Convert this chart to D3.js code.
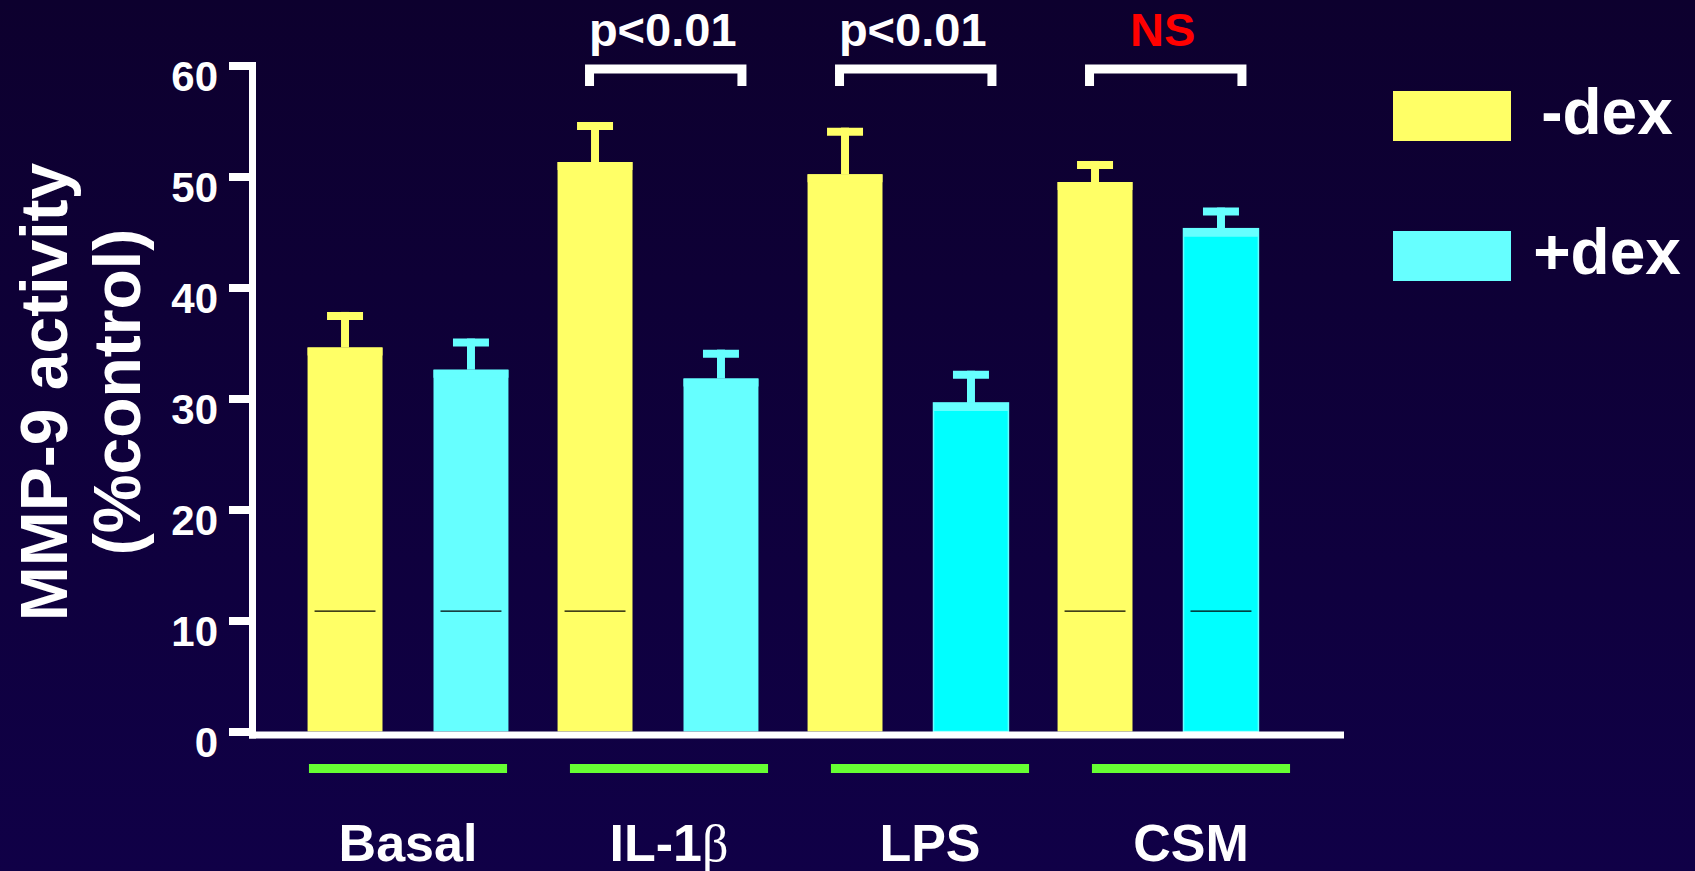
<!DOCTYPE html>
<html>
<head>
<meta charset="utf-8">
<script src="https://cdn.jsdelivr.net/npm/d3@7"></script>
<style>
  html, body { margin: 0; padding: 0; background: #0e0034; }
  svg { display: block; }
  text { font-family: "Liberation Sans", Arial, sans-serif; font-weight: bold; fill: #ffffff; }
</style>
</head>
<body>
<svg id="chart" width="1695" height="871"></svg>
<script>
// MMP-9 activity by stimulus, without (-dex) and with (+dex) dexamethasone
const categories = ["Basal", "IL-1β", "LPS", "CSM"];
const series = ["-dex", "+dex"];
const minusDex = [34.6, 51.3, 50.2, 49.5];
const minusDexSE = [3.2, 3.6, 4.2, 1.9];
const plusDex = [32.6, 31.8, 29.6, 45.3];
const plusDexSE = [2.8, 2.6, 2.9, 1.9];
const yTicks = [0, 10, 20, 30, 40, 50, 60];

// significance brackets above three stimuli
const compared = ["IL-1β", "LPS", "CSM"];
const compareLabels = ["p<0.01", "p<0.01", "NS"];

// thin reference rule that shows inside some bars
const ruleValue = 10.85;
const ruleBars = [["Basal", "-dex"], ["Basal", "+dex"], ["IL-1β", "-dex"], ["CSM", "-dex"], ["CSM", "+dex"]];

// colours
const seriesColor = { "-dex": "#ffff66", "+dex": "#66ffff" };
const plusDexFill = ["#66ffff", "#66ffff", "#00ffff", "#00ffff"];
const labelColor = { "p<0.01": "#ffffff", "NS": "#ff0000" };

const rows = categories.map((c, i) => ({
  cat: c,
  bars: [
    { s: "-dex", v: minusDex[i], se: minusDexSE[i], fill: seriesColor["-dex"] },
    { s: "+dex", v: plusDex[i], se: plusDexSE[i], fill: plusDexFill[i] }
  ]
}));

const svg = d3.select("#chart");

// background
const defs = svg.append("defs");
const grad = defs.append("linearGradient").attr("id", "bg").attr("x1", 0).attr("y1", 0).attr("x2", 0).attr("y2", 1);
grad.append("stop").attr("offset", "0%").attr("stop-color", "#0d002e");
grad.append("stop").attr("offset", "100%").attr("stop-color", "#100047");
svg.append("rect").attr("width", 1695).attr("height", 871).attr("fill", "url(#bg)");

// scales
const y = d3.scaleLinear().domain([0, 60]).range([731.5, 65.5]);
const x0 = d3.scaleBand().domain(categories).range([283, 1283]);
const x1 = d3.scaleBand().domain(series).range([0, x0.bandwidth()]).paddingInner(0.405).paddingOuter(0.195);
const xg = d3.scaleBand().domain(categories).range([277.5, 1321.5]).paddingInner(0.241).paddingOuter(0.1205);

// bars
const groups = svg.append("g").selectAll("g").data(rows).join("g")
  .attr("transform", d => `translate(${x0(d.cat)},0)`);

groups.selectAll("rect.bar").data(d => d.bars).join("rect")
  .attr("class", "bar")
  .attr("x", d => x1(d.s))
  .attr("y", d => y(d.v))
  .attr("width", x1.bandwidth())
  .attr("height", d => y(0) - y(d.v))
  .attr("fill", d => d.fill)
  .attr("stroke", d => d.fill === seriesColor[d.s] ? "none" : seriesColor[d.s])
  .attr("stroke-width", 1.5);

// mean line on top of each bar
groups.selectAll("line.mean").data(d => d.bars).join("line")
  .attr("class", "mean")
  .attr("x1", d => x1(d.s)).attr("x2", d => x1(d.s) + x1.bandwidth())
  .attr("y1", d => y(d.v) + 4).attr("y2", d => y(d.v) + 4)
  .attr("stroke", d => seriesColor[d.s]).attr("stroke-width", 8);

// error bars: stem + cap
groups.selectAll("line.stem").data(d => d.bars).join("line")
  .attr("class", "stem")
  .attr("x1", d => x1(d.s) + x1.bandwidth() / 2).attr("x2", d => x1(d.s) + x1.bandwidth() / 2)
  .attr("y1", d => y(d.v)).attr("y2", d => y(d.v + d.se))
  .attr("stroke", d => seriesColor[d.s]).attr("stroke-width", 8);

groups.selectAll("line.cap").data(d => d.bars).join("line")
  .attr("class", "cap")
  .attr("x1", d => x1(d.s) + x1.bandwidth() / 2 - 18).attr("x2", d => x1(d.s) + x1.bandwidth() / 2 + 18)
  .attr("y1", d => y(d.v + d.se) + 4).attr("y2", d => y(d.v + d.se) + 4)
  .attr("stroke", d => seriesColor[d.s]).attr("stroke-width", 8);

// thin rules inside bars
svg.append("g").selectAll("line").data(ruleBars).join("line")
  .attr("x1", d => x0(d[0]) + x1(d[1]) + 7)
  .attr("x2", d => x0(d[0]) + x1(d[1]) + x1.bandwidth() - 7)
  .attr("y1", y(ruleValue)).attr("y2", y(ruleValue))
  .attr("stroke", "#000000").attr("stroke-width", 1.2);

// y axis
const yAxis = svg.append("g").attr("transform", "translate(253,0)")
  .call(d3.axisLeft(y).tickValues(yTicks).tickSize(24).tickPadding(11).tickSizeOuter(0));
yAxis.select(".domain").remove();
yAxis.selectAll(".tick line").attr("stroke", "#ffffff").attr("stroke-width", 8);
yAxis.selectAll(".tick text")
  .attr("fill", "#ffffff")
  .attr("font-size", 42)
  .attr("font-family", "Liberation Sans, Arial, sans-serif")
  .attr("font-weight", "bold")
  .attr("dy", null)
  .attr("y", 10)
  .attr("dominant-baseline", "central");
svg.append("line")
  .attr("x1", 252.5).attr("x2", 252.5)
  .attr("y1", y(60) - 3.5).attr("y2", y(0) + 7)
  .attr("stroke", "#ffffff").attr("stroke-width", 7);

// x axis baseline
svg.append("line")
  .attr("x1", 249).attr("x2", 1344)
  .attr("y1", y(0) + 3.5).attr("y2", y(0) + 3.5)
  .attr("stroke", "#ffffff").attr("stroke-width", 7);

// green group underlines
svg.append("g").selectAll("line").data(categories).join("line")
  .attr("x1", d => xg(d)).attr("x2", d => xg(d) + xg.bandwidth())
  .attr("y1", 768.5).attr("y2", 768.5)
  .attr("stroke", "#66ff33").attr("stroke-width", 9);

// category labels
const catLabels = svg.append("g").selectAll("text").data(categories).join("text")
  .attr("x", d => xg(d) + xg.bandwidth() / 2)
  .attr("y", 861)
  .attr("text-anchor", "middle")
  .attr("font-size", 52);
catLabels.each(function (d) {
  const t = d3.select(this);
  if (d.endsWith("β")) {
    t.append("tspan").text(d.slice(0, -1));
    t.append("tspan").text("β")
      .style("font-family", "Liberation Serif, DejaVu Serif, serif")
      .style("font-weight", "normal");
  } else {
    t.text(d);
  }
});

// y title
const title = svg.append("g").attr("transform", "translate(0,392) rotate(-90)");
title.append("text").attr("x", 0).attr("y", 67).attr("text-anchor", "middle")
  .attr("font-size", 66).text("MMP-9 activity");
title.append("text").attr("x", 0).attr("y", 140).attr("text-anchor", "middle")
  .attr("font-size", 66).text("(%control)");

// significance brackets
const brackets = svg.append("g").selectAll("g").data(compared.map((c, i) => ({ c, label: compareLabels[i] }))).join("g");
brackets.each(function (d) {
  const g = d3.select(this);
  const left = x0(d.c) + x1("-dex") + x1.bandwidth() / 2 - 10;
  const right = x0(d.c) + x1("+dex") + x1.bandwidth() - 12;
  g.append("path")
    .attr("d", `M${left + 4.5},86 V69 H${right - 4.5} V86`)
    .attr("fill", "none").attr("stroke", "#ffffff").attr("stroke-width", 9)
    .attr("stroke-linejoin", "miter");
  g.append("text")
    .attr("x", (left + right) / 2 - 3)
    .attr("y", 46)
    .attr("text-anchor", "middle")
    .attr("font-size", 47)
    .style("fill", labelColor[d.label])
    .text(d.label);
});

// legend
const legend = svg.append("g").selectAll("g").data(series).join("g")
  .attr("transform", (d, i) => `translate(1393,${91 + i * 140})`);
legend.append("rect").attr("width", 118).attr("height", 50).attr("fill", d => seriesColor[d]);
legend.append("text").attr("x", 214).attr("y", 43).attr("text-anchor", "middle")
  .attr("font-size", 64).text(d => d);
</script>
</body>
</html>
